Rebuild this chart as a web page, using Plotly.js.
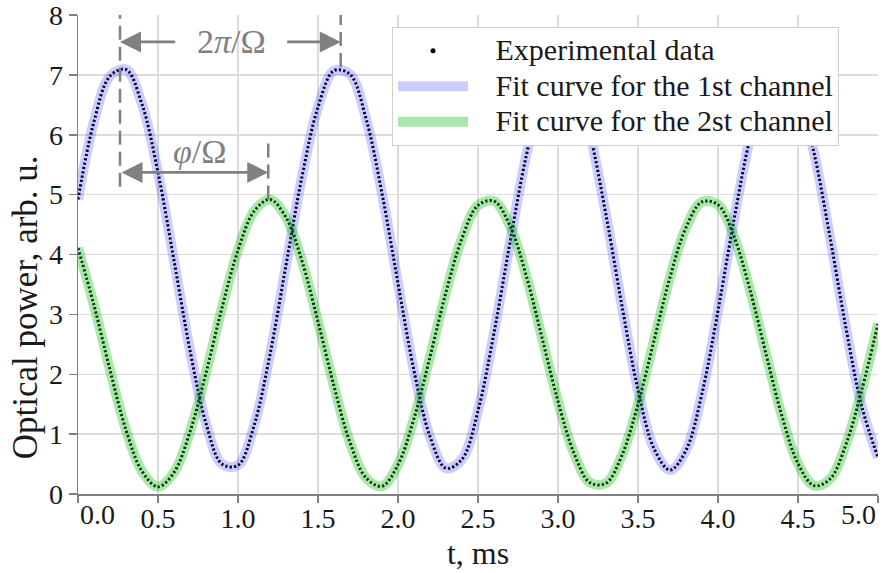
<!DOCTYPE html>
<html>
<head>
<meta charset="utf-8">
<script src="https://cdn.plot.ly/plotly-3.0.1.min.js"></script>
<style>html,body{margin:0;padding:0;background:#fff;}#chart{width:883px;height:573px;}</style>
</head>
<body>
<div id="chart"></div>
<script>
// time axis, ms
var tMs = [0.0,0.1,0.2,0.3,0.4,0.5,0.6,0.7,0.8,0.9,1.0,1.1,1.2,1.3,1.4,1.5,1.6,1.7,1.8,1.9,2.0,2.1,2.2,2.3,2.4,2.5,2.6,2.7,2.8,2.9,3.0,3.1,3.2,3.3,3.4,3.5,3.6,3.7,3.8,3.9,4.0,4.1,4.2,4.3,4.4,4.5,4.6,4.7,4.8,4.9,5.0];
// optical power, 1st channel (arb. u.)
var channel1 = [4.92,6.22,6.98,7.09,6.51,5.37,3.90,2.40,1.18,0.50,0.48,1.14,2.33,3.82,5.30,6.46,7.07,7.01,6.27,5.02,3.52,2.06,0.96,0.43,0.58,1.39,2.69,4.20,5.63,6.67,7.12,6.88,6.00,4.66,3.14,1.74,0.76,0.40,0.73,1.68,3.06,4.58,5.94,6.85,7.13,6.72,5.70,4.29,2.77,1.45,0.61];
// optical power, 2nd channel (arb. u.)
var channel2 = [4.11,3.15,2.07,1.07,0.38,0.12,0.36,1.04,2.02,3.11,4.07,4.72,4.92,4.62,3.89,2.88,1.80,0.86,0.27,0.13,0.49,1.26,2.29,3.37,4.27,4.82,4.89,4.48,3.66,2.61,1.55,0.68,0.19,0.18,0.65,1.50,2.56,3.62,4.45,4.88,4.83,4.30,3.41,2.34,1.30,0.51,0.14,0.25,0.83,1.75,2.84];
var seriesNames = ["Experimental data","Fit curve for the 1st channel","Fit curve for the 2st channel"];
var xTickVals = [0.0,0.5,1.0,1.5,2.0,2.5,3.0,3.5,4.0,4.5,5.0];
var xTickText = ["","0.5","1.0","1.5","2.0","2.5","3.0","3.5","4.0","4.5",""];
var xEndLabels = ["0.0","5.0"];
var yTickVals = [0,1,2,3,4,5,6,7,8];
var xTitle = "t, ms", yTitle = "Optical power, arb. u.";
// annotation anchors (ms, arb. u.)
var peak1 = [0.2625, 7.13];
var peak2 = [1.642, 7.13];
var peakCh2 = [1.189, 4.92];
var periodArrowY = 7.55, phaseArrowY = 5.37;

var fontFam = 'Liberation Serif, Times New Roman, serif';
var grey = '#808080';
function legendLabel(s){ return '<span style="font-size:30px">\u00a0\u00a0\u00a0' + s + '</span>'; }

var traces = [
  {x:[null], y:[null], mode:'markers', name:legendLabel(seriesNames[0]), marker:{color:'#000', size:5}, showlegend:true},
  {x:tMs, y:channel1, mode:'lines', line:{color:'#000', width:3, dash:'2.2px,2.2px', shape:'spline'}, showlegend:false, hoverinfo:'skip'},
  {x:tMs, y:channel2, mode:'lines', line:{color:'#000', width:3, dash:'2.2px,2.2px', shape:'spline'}, showlegend:false, hoverinfo:'skip'},
  {x:tMs, y:channel1, mode:'lines', name:legendLabel(seriesNames[1]), line:{color:'rgba(0,0,255,0.2)', width:10, shape:'spline'}},
  {x:tMs, y:channel2, mode:'lines', name:legendLabel(seriesNames[2]), line:{color:'rgba(0,180,0,0.33)', width:10, shape:'spline'}}
];

var dashLine = {color:grey, width:2.5, dash:'14px,7px'};
var shapes = [
  {type:'line', xref:'x', yref:'y', x0:peak1[0], x1:peak1[0], y0:5.13, y1:8, line:dashLine},
  {type:'line', xref:'x', yref:'y', x0:peak2[0], x1:peak2[0], y0:peak2[1], y1:8, line:dashLine},
  {type:'line', xref:'x', yref:'y', x0:peakCh2[0], x1:peakCh2[0], y0:peakCh2[1], y1:5.91, line:dashLine}
];

var arrowCommon = {xref:'x', yref:'y', axref:'x', ayref:'y', text:'', showarrow:true, arrowhead:2, arrowsize:1.5, arrowwidth:2.8, arrowcolor:grey, standoff:0, startstandoff:0};
var tickFont = {family:fontFam, size:28, color:'#1a1a1a'};
var annotations = [
  Object.assign({}, arrowCommon, {x:peak1[0], y:periodArrowY, ax:0.617, ay:periodArrowY}),
  Object.assign({}, arrowCommon, {x:peak2[0], y:periodArrowY, ax:1.298, ay:periodArrowY}),
  Object.assign({}, arrowCommon, {x:peakCh2[0], y:phaseArrowY, ax:peak1[0], ay:phaseArrowY, arrowside:'end+start'}),
  {xref:'x', yref:'y', x:0.958, y:periodArrowY, text:'2<i>π</i>/Ω', showarrow:false, font:{family:fontFam, size:34, color:grey}},
  {xref:'x', yref:'y', x:0.7625, y:5.72, text:'<i>φ</i>/Ω', showarrow:false, font:{family:fontFam, size:34, color:grey}},
  {xref:'x', yref:'paper', x:xTickVals[0], y:0, xanchor:'left', yanchor:'middle', yshift:-20, text:xEndLabels[0], showarrow:false, font:tickFont},
  {xref:'x', yref:'paper', x:xTickVals[xTickVals.length-1], y:0, xanchor:'right', yanchor:'middle', yshift:-20, text:xEndLabels[1], showarrow:false, font:tickFont},
  {xref:'paper', yref:'paper', x:0, xshift:-53, y:0.39, xanchor:'center', yanchor:'middle', textangle:-90, text:yTitle, showarrow:false, font:{family:fontFam, size:35, color:'#1a1a1a'}}
];

var layout = {
  width:883, height:573,
  margin:{l:78, r:5, t:15, b:79},
  paper_bgcolor:'#fff', plot_bgcolor:'#fff',
  font:{family:fontFam, size:28, color:'#1a1a1a'},
  showlegend:true,
  legend:{x:0.3925, y:0.975, xanchor:'left', yanchor:'top', bgcolor:'#fff', bordercolor:'#d0d0d0', borderwidth:1, font:{family:fontFam, size:25, color:'#1a1a1a'}, itemwidth:70, tracegroupgap:0},
  xaxis:{range:[0,5.0], tickvals:xTickVals, ticktext:xTickText, ticklabeloverflow:'allow', ticklabelstandoff:-8, showline:true, linecolor:grey, linewidth:1.5, ticks:'outside', ticklen:7, tickwidth:1.5, tickcolor:grey, showgrid:true, gridcolor:'#dcdcdc', gridwidth:1.5, zeroline:false, title:{text:xTitle, font:{family:fontFam, size:32}, standoff:8}, tickfont:tickFont},
  yaxis:{range:[0,8], tickvals:yTickVals, ticklabeloverflow:'allow', showline:true, linecolor:grey, linewidth:1.5, ticks:'outside', ticklen:8, tickwidth:1.5, tickcolor:grey, showgrid:true, gridcolor:'#dcdcdc', gridwidth:1.5, zeroline:false, tickfont:tickFont},
  shapes:shapes,
  annotations:annotations
};

Plotly.newPlot('chart', traces, layout, {displayModeBar:false, staticPlot:true});
</script>
</body>
</html>
